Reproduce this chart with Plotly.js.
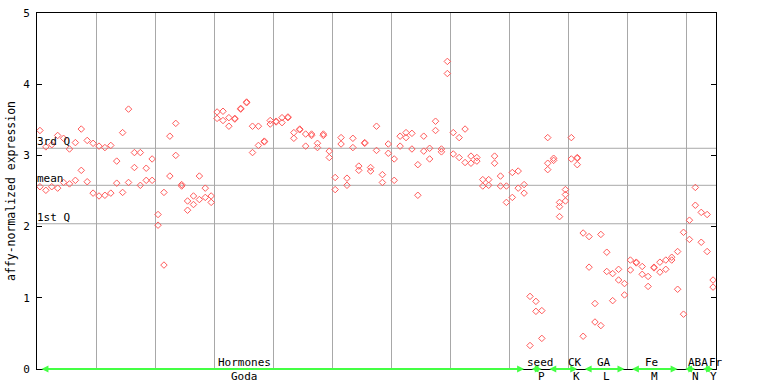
<!DOCTYPE html>
<html><head><meta charset="utf-8">
<script src="https://cdn.plot.ly/plotly-3.0.1.min.js"></script>
<style>html,body{margin:0;padding:0;background:#fff}#chart{width:768px;height:384px}</style>
</head><body><div id="chart"></div>
<script>
// replicate values per sample (index 0..114)
const rep1 = [3.35,3.12,3.15,3.28,3.24,3.09,3.18,3.37,3.21,3.17,
  3.13,3.11,3.14,2.92,3.32,3.65,3.04,3.04,2.82,2.95,
  2.17,2.48,3.27,3.45,2.59,2.36,2.43,2.71,2.54,2.43,
  3.61,3.62,3.53,3.52,3.65,3.74,3.41,3.41,3.19,3.49,
  3.47,3.53,3.53,3.32,3.36,3.30,3.30,3.17,3.30,3.06,
  2.69,3.25,2.68,3.24,2.85,3.17,2.83,3.41,2.73,3.16,
  2.95,3.27,3.32,3.31,2.87,3.27,3.10,3.48,3.09,4.32,
  3.32,3.25,3.37,2.99,2.97,2.66,2.66,2.99,2.71,2.57,
  2.76,2.78,2.59,1.02,0.95,0.82,3.25,2.96,2.34,2.52,
  3.25,2.96,1.91,1.86,0.92,1.89,1.64,1.34,1.40,1.20,
  1.53,1.49,1.44,1.30,1.42,1.50,1.53,1.57,1.65,1.92,
  2.09,2.55,2.20,2.17,1.25];
const rep2 = [2.56,2.51,2.56,2.54,2.62,2.60,2.65,2.79,2.63,2.47,
  2.43,2.44,2.47,2.61,2.48,2.62,2.83,2.58,2.65,2.65,
  2.02,1.46,2.71,3.00,2.57,2.23,2.31,2.38,2.41,2.34,
  3.52,3.49,3.41,3.51,3.66,3.75,3.04,3.14,3.20,3.44,
  3.48,3.46,3.54,3.24,3.37,3.13,3.28,3.11,3.28,2.97,
  2.52,3.16,2.58,3.11,2.79,3.18,2.78,3.07,2.62,3.03,
  2.65,3.13,3.25,3.09,2.44,3.06,2.95,3.35,3.05,4.15,
  3.02,2.97,2.90,2.89,2.92,2.57,2.58,2.89,2.57,2.34,
  2.41,2.54,2.47,0.33,0.81,0.43,2.89,2.93,2.28,2.45,
  2.95,2.87,0.46,1.43,0.66,0.61,1.37,0.96,1.25,1.04,
  1.39,1.50,1.33,1.16,1.43,1.36,1.40,1.53,1.12,0.77,
  1.82,2.30,1.78,1.65,1.15];
const rep3 = {86:2.80, 88:2.14, 89:2.36, 91:2.97};

const groupTop = ['Hormones','seed','CK','GA','Fe','ABA','Fr'];
const groupBottom = ['Goda','P','K','L','M','N','Y'];
const groupStart = [0,83,86,92,100,109,112];
const groupEnd = [82,85,91,99,108,111,114];
const topLabelPos = [34.7,84.7,90.6,95.6,103.5,111.4,114.5];
const bottomLabelPos = [34.7,84.9,90.9,96,104,111,114.1];

const statNames = ['3rd Q','mean','1st Q'];
const statValues = [3.10, 2.58, 2.04];

const gridVals = [9.5,19.5,29.5,39.5,49.5,59.5,69.5,79.5,89.5,99.5,109.5];

const xs = [], ys = [];
rep1.forEach((v,i)=>{ xs.push(i); ys.push(v); });
rep2.forEach((v,i)=>{ xs.push(i); ys.push(v); });
Object.keys(rep3).forEach(k=>{ xs.push(+k); ys.push(rep3[k]); });

const FONT = {family:'DejaVu Sans Mono, monospace', size:11, color:'#000'};
const GREEN = '#44ff44';

const shapes = statValues.map(v=>({type:'line', xref:'paper', x0:0, x1:1, yref:'y', y0:v, y1:v,
  line:{color:'#a8a8a8', width:1}, layer:'below'}));

const annotations = [];
statNames.forEach((n,i)=>annotations.push({xref:'paper', x:0, yref:'y', y:statValues[i],
  text:n, showarrow:false, xanchor:'left', yanchor:'bottom', xshift:-2, yshift:-2, font:FONT}));
groupTop.forEach((n,i)=>annotations.push({xref:'x', x:topLabelPos[i], yref:'y', y:0,
  text:n, showarrow:false, xanchor:'center', yanchor:'middle', yshift:7, font:FONT}));
groupBottom.forEach((n,i)=>annotations.push({xref:'x', x:bottomLabelPos[i], yref:'y', y:0,
  text:n, showarrow:false, xanchor:'center', yanchor:'middle', yshift:-7, font:FONT}));
groupStart.forEach((s,i)=>annotations.push({xref:'x', yref:'y', x:groupEnd[i], y:0,
  axref:'x', ayref:'y', ax:s, ay:0, text:'', showarrow:true, arrowside:'end+start',
  arrowhead:2, arrowsize:0.7, arrowwidth:2, arrowcolor:GREEN, standoff:0, startstandoff:0}));
annotations.push({xref:'paper', x:0, xshift:-26, yref:'paper', y:0.5, text:'affy-normalized expression',
  textangle:-90, showarrow:false, xanchor:'center', yanchor:'middle',
  font:{family:'DejaVu Sans Mono, monospace', size:11.5, color:'#000'}});

const data = [{type:'scatter', mode:'markers', x:xs, y:ys, cliponaxis:false,
  marker:{symbol:'diamond-open', size:5, color:'#ff5a5a', line:{width:1, color:'#ff5a5a'}},
  hoverinfo:'none'}];

const layout = {
  width:768, height:384, margin:{l:37, r:52, t:13, b:15},
  paper_bgcolor:'#fff', plot_bgcolor:'#fff', showlegend:false, font:FONT,
  xaxis:{range:[-0.5,114.5], tickmode:'array', tickvals:gridVals, showticklabels:false, ticks:'',
    showgrid:true, gridcolor:'#a8a8a8', gridwidth:1, zeroline:false, showline:true,
    linecolor:'#000', linewidth:1, mirror:true, fixedrange:true},
  yaxis:{range:[0,5], tickmode:'array', tickvals:[0,1,2,3,4,5], ticktext:['0','1','2','3','4','5'],
    ticks:'inside', ticklen:5, tickcolor:'#000', tickwidth:1, showgrid:false, zeroline:false,
    showline:true, linecolor:'#000', linewidth:1, mirror:'ticks', tickfont:FONT,
    ticklabelstandoff:4, fixedrange:true},
  shapes:shapes, annotations:annotations
};
Plotly.newPlot('chart', data, layout, {displayModeBar:false, staticPlot:true});
</script></body></html>
